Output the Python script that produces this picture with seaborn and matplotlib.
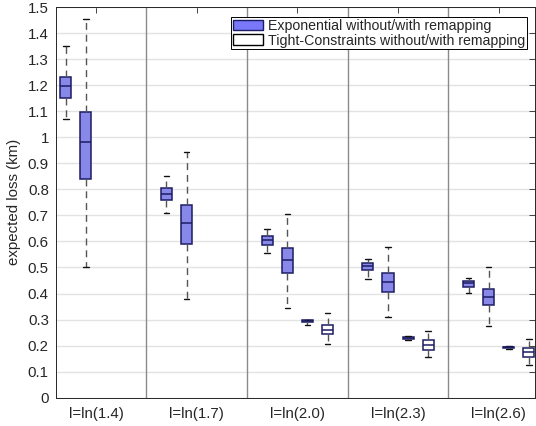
import pandas as pd
import matplotlib
matplotlib.use('Agg')
import matplotlib.pyplot as plt
from matplotlib.patches import Patch
import seaborn as sns

# group labels along the x axis
groups = ['l=ln(1.4)', 'l=ln(1.7)', 'l=ln(2.0)', 'l=ln(2.3)', 'l=ln(2.6)']

# five-number summaries: (low, q1, median, q3, high)
exp_without = [(1.071, 1.150, 1.196, 1.233, 1.352),
               (0.711, 0.758, 0.781, 0.807, 0.853),
               (0.555, 0.588, 0.606, 0.622, 0.648),
               (0.456, 0.489, 0.505, 0.517, 0.533),
               (0.403, 0.426, 0.439, 0.448, 0.459)]
exp_with = [(0.503, 0.839, 0.981, 1.096, 1.455),
            (0.379, 0.590, 0.671, 0.741, 0.942),
            (0.345, 0.479, 0.529, 0.574, 0.705),
            (0.311, 0.406, 0.446, 0.478, 0.580),
            (0.274, 0.355, 0.386, 0.416, 0.501)]
tight_without = [None,
                 None,
                 (0.280, 0.289, 0.293, 0.297, 0.300),
                 (0.221, 0.227, 0.230, 0.233, 0.236),
                 (0.186, 0.190, 0.193, 0.196, 0.198)]
tight_with = [None,
              None,
              (0.205, 0.244, 0.260, 0.278, 0.324),
              (0.155, 0.183, 0.202, 0.222, 0.257),
              (0.127, 0.157, 0.175, 0.192, 0.224)]

yticks = [i / 10 for i in range(16)]
ytick_labels = ['0', '0.1', '0.2', '0.3', '0.4', '0.5', '0.6', '0.7', '0.8',
                '0.9', '1', '1.1', '1.2', '1.3', '1.4', '1.5']

legend_labels = ['Exponential without/with remapping',
                 'Tight-Constraints without/with remapping']

# long table: each box gets its five summary values as samples,
# so quartiles and min/max whiskers come out as read
rows = []
series = [(exp_without, 'exp'), (exp_with, 'exp'),
          (tight_without, 'tight'), (tight_with, 'tight')]
for g in range(len(groups)):
    for j, (vals, kind) in enumerate(series):
        if vals[g] is None:
            continue
        pos = 5 * g + j + 1
        for v in vals[g]:
            rows.append({'pos': pos, 'kind': kind, 'loss': v})
df = pd.DataFrame(rows)

sns.set_style('white')
plt.rcParams['font.family'] = ['Liberation Sans', 'DejaVu Sans']
plt.rcParams['font.size'] = 10

edge = '#1c1c66'
fig = plt.figure(figsize=(5.36, 4.26), dpi=100)
ax = fig.add_axes([55.7 / 536, 1 - 397.7 / 426, (535 - 55.7) / 536, 390.7 / 426])

ax.yaxis.grid(True, color='#e3e3e3', linewidth=1)
ax.set_axisbelow(True)
for k in range(1, len(groups)):
    ax.axvline(5 * k, color='#8a8a8a', linewidth=1, zorder=1)

sns.boxplot(data=df, x='pos', y='loss', hue='kind', native_scale=True,
            dodge=False, width=0.55, whis=(0, 100), legend=False,
            palette={'exp': '#7878f8', 'tight': 'white'},
            linecolor=edge, linewidth=1.1, ax=ax,
            whiskerprops={'color': '#555555', 'linestyle': (0, (5, 3.5)), 'linewidth': 1},
            capprops={'color': '#111111', 'linewidth': 1},
            medianprops={'color': edge, 'linewidth': 1.1, 'zorder': 5},
            boxprops={'edgecolor': edge})

ax.set_xlim(0.5, 24.3)
ax.set_ylim(0, 1.5)
ax.set_xticks([5 * g + 2.5 for g in range(len(groups))])
ax.set_xticklabels(groups, fontsize=10.8)
ax.set_yticks(yticks)
ax.set_yticklabels(ytick_labels, fontsize=10.8)
ax.set_xlabel('')
ax.set_ylabel('expected loss (km)', fontsize=10.8)
ax.yaxis.set_label_coords(-0.072, 0.5)
ax.tick_params(direction='in', length=4, width=0.6, top=True, right=True,
               colors='#262626')
ax.tick_params(axis='y', pad=5)
ax.tick_params(axis='x', pad=7)
for s in ax.spines.values():
    s.set_visible(True)
    s.set_color('#262626')
    s.set_linewidth(0.7)

handles = [Patch(facecolor='#7878f8', edgecolor=edge, linewidth=1),
           Patch(facecolor='white', edgecolor='black', linewidth=1)]
leg = ax.legend(handles, legend_labels, loc='upper right',
                bbox_to_anchor=((526.7 - 55.7) / 479.3, 1 - (17.3 - 7) / 390.7),
                borderaxespad=0, fancybox=False, framealpha=1, fontsize=10.2,
                handlelength=2.1, handleheight=0.8, handletextpad=0.35,
                labelspacing=0.05, borderpad=0.12)
leg.get_frame().set_edgecolor('black')
leg.get_frame().set_linewidth(0.7)

fig.savefig('out.png', dpi=100)
